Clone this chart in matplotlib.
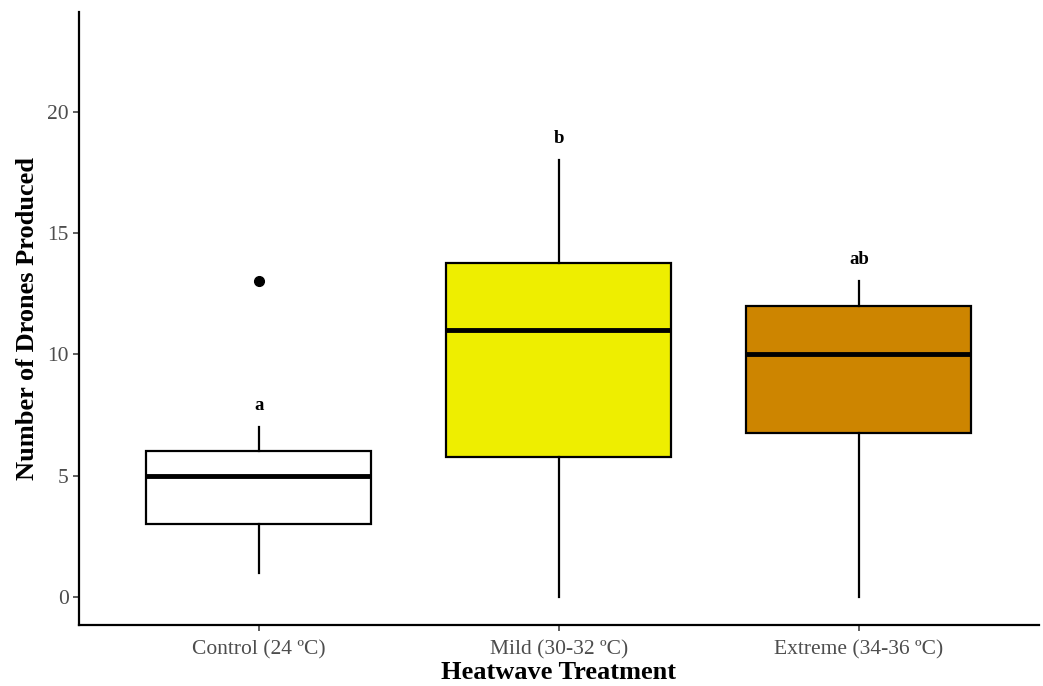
import matplotlib
matplotlib.use('Agg')
from matplotlib import pyplot as plt

plt.rcParams['font.family'] = ['Liberation Serif', 'DejaVu Serif']

treatments = ['Control (24 ºC)', 'Mild (30-32 ºC)', 'Extreme (34-36 ºC)']
whisker_low = [1, 0, 0]
q1 = [3, 5.75, 6.75]
medians = [5, 11, 10]
q3 = [6, 13.75, 12]
whisker_high = [7, 18, 13]
outliers = [[13], [], []]
letters = ['a', 'b', 'ab']
letter_y = [7.9, 18.9, 13.9]
box_colors = ['#FFFFFF', '#EEEE00', '#CD8500']

stats = []
for i in range(len(treatments)):
    stats.append({'whislo': whisker_low[i], 'q1': q1[i], 'med': medians[i],
                  'q3': q3[i], 'whishi': whisker_high[i], 'fliers': outliers[i]})

fig = plt.figure(figsize=(10.43, 6.86), dpi=100)
ax = fig.add_axes([0.0757, 0.0889, 0.9203, 0.8936])

bp = ax.bxp(stats, positions=[1, 2, 3], widths=0.75, patch_artist=True,
            showcaps=False,
            boxprops=dict(linewidth=1.6, edgecolor='black'),
            whiskerprops=dict(linewidth=1.6, color='black'),
            medianprops=dict(linewidth=3.5, color='black'),
            flierprops=dict(marker='o', markerfacecolor='black',
                            markeredgecolor='black', markersize=7))
for patch, c in zip(bp['boxes'], box_colors):
    patch.set_facecolor(c)

for i, (lab, y) in enumerate(zip(letters, letter_y)):
    ax.text(i + 1, y, lab, ha='center', va='center', fontsize=13.5,
            fontweight='bold')

ax.set_xlim(0.4, 3.6)
ax.set_ylim(-1.15, 24.1)
ax.set_yticks([0, 5, 10, 15, 20])
ax.set_xticks([1, 2, 3])
ax.set_xticklabels(treatments)
ax.tick_params(labelsize=15.5, labelcolor='#4D4D4D', length=4, width=1.1,
               color='#333333')
ax.tick_params(axis='x', pad=7)

for side in ['top', 'right']:
    ax.spines[side].set_visible(False)
for side in ['left', 'bottom']:
    ax.spines[side].set_linewidth(1.6)

ax.set_xlabel('Heatwave Treatment', fontsize=19, fontweight='bold', labelpad=1)
ax.set_ylabel('Number of Drones Produced', fontsize=19, fontweight='bold',
              labelpad=6)

fig.savefig('out.png', dpi=100)
